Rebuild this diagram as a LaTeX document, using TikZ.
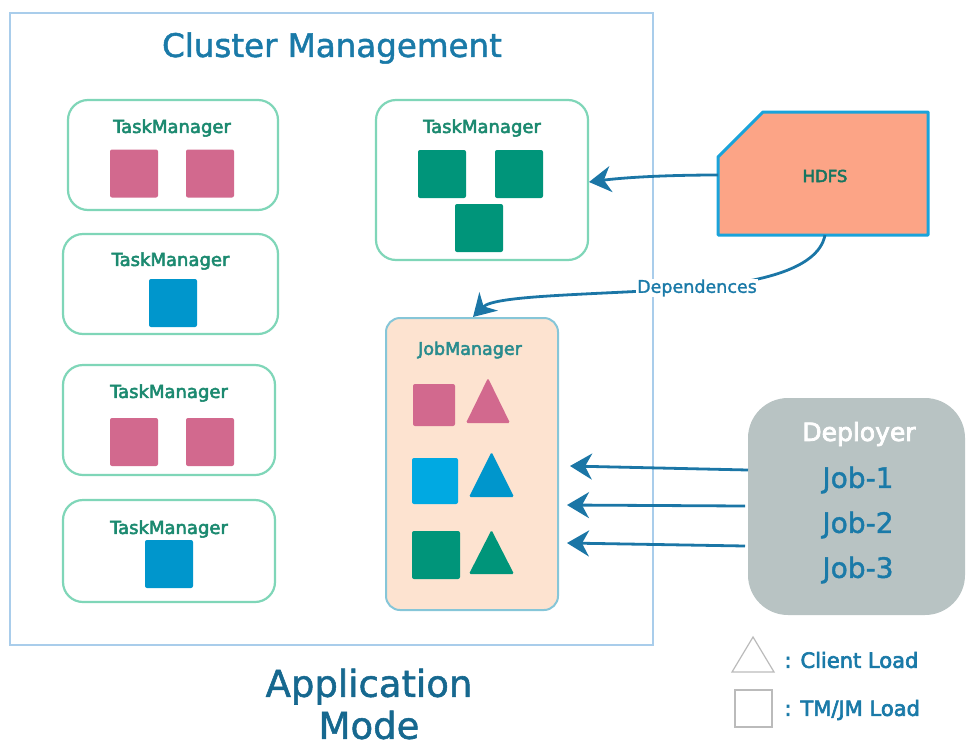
\documentclass[tikz,border=0pt]{standalone}
\usepackage{fontspec}
\setmainfont{DejaVu Sans}
\newfontfamily\medf[FakeBold=3]{DejaVu Sans}
\newfontfamily\semif[FakeBold=1.5]{DejaVu Sans}
\usetikzlibrary{arrows.meta,positioning}
\definecolor{outerb}{HTML}{A9CDEB}
\definecolor{tmb}{HTML}{7FD6B8}
\definecolor{tmt}{HTML}{1C8A70}
\definecolor{pinkc}{HTML}{D2698E}
\definecolor{bluec}{HTML}{0096CC}
\definecolor{lblue}{HTML}{00A9E2}
\definecolor{greenc}{HTML}{00957A}
\definecolor{arr}{HTML}{1B76A6}
\definecolor{titlec}{HTML}{1A7AA8}
\definecolor{hdfsf}{HTML}{FCA486}
\definecolor{hdfsb}{HTML}{1AA3DA}
\definecolor{jmf}{HTML}{FDE3D0}
\definecolor{jmb}{HTML}{86C6D8}
\definecolor{jmt}{HTML}{2A8C8E}
\definecolor{depf}{HTML}{B8C3C3}
\definecolor{legc}{HTML}{BBBBBB}
\tikzset{
  tmbox/.style={draw=tmb, line width=2.2pt, rounded corners=20pt, fill=white},
  tmlabel/.style={text=tmt, font=\medf\fontsize{18}{20}\selectfont},
  sq/.style={rounded corners=2pt, inner sep=0pt, minimum size=#1},
  arrowline/.style={draw=arr, line width=2.8pt, -{Stealth[length=22pt,width=26pt,inset=7pt]}},
  jobtext/.style={text=titlec, font=\semif\fontsize{28}{30}\selectfont},
  legtext/.style={anchor=west, text=titlec, font=\medf\fontsize{21}{23}\selectfont},
}
\begin{document}
\begin{tikzpicture}[x=1pt,y=-1pt]
\useasboundingbox (0,0) rectangle (974,750);
% outer cluster box
\node[draw=outerb, line width=1.5pt, minimum width=643pt, minimum height=632pt, inner sep=0pt] (cluster) at (331.5,329) {};
\node[text=titlec, font=\semif\fontsize{32.5}{35}\selectfont] (ctitle) at (332,48) {Cluster Management};

% TaskManagers
\node[tmbox, minimum width=210pt, minimum height=110pt] (tm1) at (173,155) {};
\node[tmlabel] (tm1l) at (172,128) {TaskManager};
\node[sq=48pt, fill=pinkc] (tm1a) at (134,173.5) {};
\node[sq=48pt, fill=pinkc] (tm1b) at (210,173.5) {};

\node[tmbox, minimum width=215pt, minimum height=100pt] (tm2) at (170.5,284) {};
\node[tmlabel] (tm2l) at (170.5,261) {TaskManager};
\node[sq=48pt, fill=bluec] (tm2a) at (173,303) {};

\node[tmbox, minimum width=212pt, minimum height=110pt] (tm3) at (169,420) {};
\node[tmlabel] (tm3l) at (169,393) {TaskManager};
\node[sq=48pt, fill=pinkc] (tm3a) at (134,442) {};
\node[sq=48pt, fill=pinkc] (tm3b) at (210,442) {};

\node[tmbox, minimum width=212pt, minimum height=102pt] (tm4) at (169,551) {};
\node[tmlabel] (tm4l) at (169,529) {TaskManager};
\node[sq=48pt, fill=bluec] (tm4a) at (169,564) {};

\node[tmbox, minimum width=212pt, minimum height=160pt] (tm5) at (482,180) {};
\node[tmlabel] (tm5l) at (482,128) {TaskManager};
\node[sq=48pt, fill=greenc] (tm5a) at (442,174) {};
\node[sq=48pt, fill=greenc] (tm5b) at (519,174) {};
\node[sq=48pt, fill=greenc] (tm5c) at (479,228) {};

% JobManager
\node[draw=jmb, fill=jmf, line width=2pt, rounded corners=14pt, minimum width=172pt, minimum height=292pt] (jm) at (472,464) {};
\node[text=jmt, font=\medf\fontsize{17.5}{19}\selectfont] (jml) at (470,350) {JobManager};
\node[sq=42pt, fill=pinkc] (jm1s) at (434,405) {};
\node[sq=46pt, fill=lblue] (jm2s) at (435,481) {};
\node[sq=48pt, fill=greenc] (jm3s) at (436,555) {};
\fill[pinkc, rounded corners=1.5pt] (466,423) -- (488,378) -- (510,423) -- cycle;
\fill[bluec, rounded corners=1.5pt] (469,497) -- (491.5,452) -- (514,497) -- cycle;
\fill[greenc, rounded corners=1.5pt] (469,574) -- (491.5,530) -- (514,574) -- cycle;

% HDFS
\node[minimum width=210pt, minimum height=123pt, inner sep=0pt] (hdfs) at (823,173.5) {};
\draw[draw=hdfsb, fill=hdfsf, line width=3pt, line join=round] (718,157) -- (763,112) -- (928,112) -- (928,235) -- (718,235) -- cycle;
\node[text=tmt!85!black, font=\medf\fontsize{16.5}{18}\selectfont] (hdfsl) at (825,176) {HDFS};

% Deployer
\node[fill=depf, rounded corners=40pt, minimum width=217pt, minimum height=217pt] (dep) at (856.5,506.5) {};
\node[text=white, font=\medf\fontsize{25}{27}\selectfont] (depl) at (859,434) {Deployer};
\node[jobtext] (job1) at (858,480) {Job-1};
\node[jobtext] (job2) at (858,525) {Job-2};
\node[jobtext] (job3) at (858,570) {Job-3};

% arrows
\coordinate (h1) at (718,175);
\coordinate (t5e) at (589,182);
\draw[arrowline] (h1) .. controls (660,175) and (620,178) .. (t5e);
\coordinate (hb) at (825,235);
\coordinate (jmt) at (473,317);
\coordinate (depmid) at (697,288);
\draw[arrowline] (hb) .. controls (818,272) and (750,283) .. (depmid) .. controls (590,295) and (495,295) .. (jmt);
\node[fill=white, inner sep=1pt, text=titlec, font=\semif\fontsize{17.5}{19}\selectfont] (deplab) at (depmid) {Dependences};

\coordinate (d1) at (748,470);
\coordinate (d2) at (745,506);
\coordinate (d3) at (745,546);
\coordinate (j1) at (570,466);
\coordinate (j2) at (567,505);
\coordinate (j3) at (567,543);
\draw[arrowline] (d1) -- (j1);
\draw[arrowline] (d2) -- (j2);
\draw[arrowline] (d3) -- (j3);

% Legend
\draw[legc, line width=1.2pt] (732,672) -- (753,637) -- (774,672) -- cycle;
\node[draw=legc, line width=1.2pt, minimum size=37pt, inner sep=0pt] (legsq) at (753.5,708.5) {};
\node[legtext] (leg1) at (781,660) {: Client Load};
\node[legtext] (leg2) at (781,710) {: TM/JM Load};

% Application Mode
\node[text=titlec!85!black, font=\semif\fontsize{37}{42}\selectfont, align=center] (appmode) at (369,704) {Application\\Mode};
\end{tikzpicture}
\end{document}
